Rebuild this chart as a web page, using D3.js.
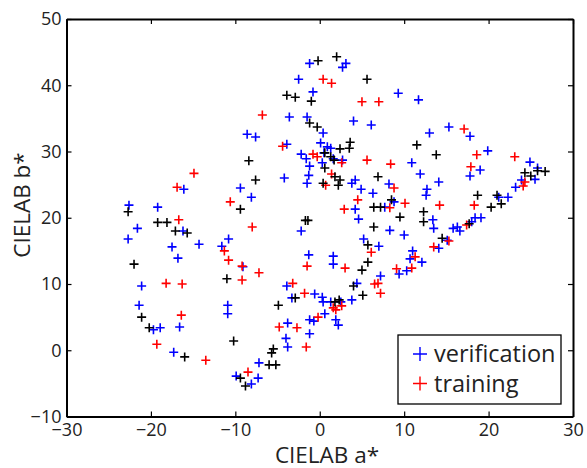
<!DOCTYPE html>
<html>
<head>
<meta charset="utf-8">
<script src="https://cdn.jsdelivr.net/npm/d3@7"></script>
<style>
	body { margin: 0; background: #fff; }
	svg { display: block; font-family: "Open Sans", sans-serif; }
</style>
</head>
<body>
<div id="chart"></div>
<script>
// verification points (blue), [a*, b*]
const verification = [
	[-22.6, 21.9], [-21.6, 18.4], [-19.2, 21.6], [-16.1, 24.3], [-16.2, 18.0], [-10.8, 16.8],
	[-9.4, 24.5], [-8.1, 23.1], [-8.6, 32.6], [-7.6, 32.2], [-4.2, 26.0], [-3.9, 31.1],
	[-3.6, 35.2], [-2.5, 40.9], [-2.2, 29.6], [-22.7, 16.8], [-17.5, 15.6], [-16.8, 13.9],
	[-14.3, 16.0], [-11.6, 15.7], [-21.1, 9.7], [-21.4, 6.8], [-16.6, 3.5], [-19.7, 3.1],
	[-18.9, 3.4], [-17.3, -0.3], [-10.9, 6.8], [-10.9, 5.5], [-9.9, -3.9], [-8.1, -5.1],
	[-7.3, -4.2], [-7.2, -1.9], [-9.1, 12.6], [-3.9, 9.7], [-3.3, 7.9], [-3.8, 4.1],
	[-4.0, 1.8], [-3.8, 0.5], [-1.2, 43.3], [3.1, 43.3], [2.7, 42.7], [-0.8, 39.0],
	[-1.5, 35.2], [0.4, 32.8], [0.1, 31.3], [0.9, 30.7], [1.3, 30.5], [0.5, 29.8],
	[-1.6, 28.9], [0.3, 28.3], [2.7, 28.7], [1.6, 28.9], [-1.2, 27.8], [-1.3, 26.4],
	[-1.5, 25.2], [3.8, 25.2], [4.2, 25.7], [4.9, 24.3], [6.3, 23.7], [8.2, 25.1],
	[4.0, 34.6], [6.1, 34.0], [9.3, 38.8], [11.7, 37.8], [13.0, 32.8], [15.3, 33.7],
	[17.8, 32.3], [19.9, 30.1], [24.9, 28.4], [25.8, 27.5], [10.9, 28.3], [11.9, 26.6],
	[14.1, 25.4], [19.0, 27.2], [17.8, 26.3], [25.5, 25.8], [23.9, 25.7], [23.2, 24.6],
	[12.7, 24.3], [12.6, 23.4], [21.2, 23.1], [22.3, 23.1], [8.8, 22.4], [7.7, 21.6],
	[4.2, 21.3], [4.6, 19.8], [13.4, 19.7], [13.5, 18.4], [-2.2, 18.0], [8.3, 18.1],
	[10.0, 17.4], [15.8, 18.4], [16.3, 18.6], [16.6, 18.0], [18.0, 19.4], [18.4, 20.0],
	[19.1, 20.0], [5.2, 16.8], [15.1, 16.6], [14.1, 15.4], [7.0, 15.7], [-1.3, 14.4],
	[1.6, 14.2], [1.6, 13.0], [11.0, 15.0], [10.7, 13.8], [12.1, 13.3], [9.4, 11.5],
	[10.3, 12.0], [7.2, 11.2], [4.4, 10.1], [-0.6, 8.5], [0.3, 8.0], [0.4, 7.3],
	[1.3, 7.3], [2.5, 7.3], [3.8, 7.6], [0.6, 5.5], [-1.2, 4.6], [-0.7, 4.4],
	[1.9, 4.6], [2.2, 3.8], [-1.2, 2.5]
];

// training points (red)
const training = [
	[-16.9, 24.6], [-14.9, 26.7], [-16.7, 19.7], [-10.6, 22.4], [-8.0, 18.6], [-6.8, 35.5],
	[-4.4, 30.8], [-19.3, 0.9], [-18.2, 10.1], [-16.3, 10.0], [-16.4, 5.3], [-13.5, -1.5],
	[-11.3, 15.0], [-10.8, 13.6], [-9.2, 12.7], [-9.2, 10.6], [-7.2, 11.7], [-8.5, -3.3],
	[-4.8, 3.5], [-2.7, 3.4], [-3.2, 10.1], [-1.8, 8.6], [-1.5, 12.7], [3.0, 12.4],
	[1.6, 6.4], [1.9, 6.1], [2.6, 6.7], [-0.2, 5.0], [-1.6, 0.5], [0.4, 40.9],
	[1.4, 40.3], [5.0, 37.5], [7.0, 37.5], [17.1, 33.4], [18.6, 29.5], [23.1, 29.2],
	[17.9, 27.7], [24.3, 25.4], [24.1, 24.8], [-0.8, 29.6], [-0.3, 29.2], [2.6, 28.3],
	[1.4, 26.6], [0.7, 24.9], [5.6, 28.7], [8.4, 28.1], [8.8, 24.5], [10.1, 22.2],
	[8.3, 21.5], [14.2, 21.9], [18.3, 21.9], [4.5, 22.7], [2.9, 21.3], [17.4, 18.9],
	[15.3, 16.5], [13.5, 15.6], [11.3, 14.1], [9.1, 12.3], [10.9, 12.4], [6.1, 14.8],
	[6.5, 10.0], [6.9, 10.1], [7.2, 8.6]
];

// remaining points (black, not in legend)
const other = [
	[-22.7, 20.9], [-19.2, 19.3], [-18.1, 19.3], [-17.1, 18.0], [-15.7, 17.7], [-9.4, 21.3],
	[-8.4, 28.6], [-7.6, 25.7], [-3.9, 38.5], [-2.9, 38.2], [-22.0, 13.0], [-21.1, 5.0],
	[-20.2, 3.4], [-16.0, -1.0], [-11.0, 10.8], [-10.2, 1.4], [-9.4, -4.2], [-8.8, -5.4],
	[-5.5, 0.2], [-5.7, -0.4], [-6.0, -2.2], [-5.2, -2.2], [-4.9, 6.8], [-2.9, 7.9],
	[-1.7, 19.6], [-1.4, 19.6], [-0.2, 43.7], [2.0, 44.3], [5.6, 40.9], [-1.0, 37.6],
	[-1.2, 34.3], [-0.3, 33.7], [3.6, 31.4], [3.5, 30.5], [2.4, 30.4], [0.6, 29.8],
	[1.3, 29.2], [1.7, 28.7], [0.6, 27.5], [1.8, 26.2], [2.4, 25.7], [2.2, 24.9],
	[0.4, 25.2], [6.9, 26.2], [11.5, 31.0], [13.8, 29.5], [24.3, 26.8], [26.7, 27.0],
	[25.0, 26.3], [25.8, 27.1], [18.7, 23.4], [21.0, 23.4], [21.5, 22.1], [20.3, 21.6],
	[8.5, 22.7], [6.4, 21.6], [7.2, 21.6], [12.3, 20.9], [12.3, 19.4], [9.5, 20.1],
	[6.4, 18.6], [17.7, 19.1], [14.5, 16.9], [5.7, 15.9], [5.7, 13.3], [5.0, 12.1],
	[5.1, 8.3], [1.8, 7.3], [2.3, 7.6], [4.0, 9.7]
];

const xTicks = [-30, -20, -10, 0, 10, 20, 30];
const yTicks = [-10, 0, 10, 20, 30, 40, 50];
const legendLabels = ["verification", "training"];

const width = 587;
const height = 468;
const margin = { top: 19, right: 14, bottom: 51.5, left: 66.5 };

const blue = "#0000ff";
const red = "#ff0000";

const svg = d3.select("#chart")
	.append("svg")
	.attr("width", width)
	.attr("height", height);

const x = d3.scaleLinear()
	.domain([-30, 30])
	.range([margin.left, width - margin.right]);

const y = d3.scaleLinear()
	.domain([-10, 50])
	.range([height - margin.bottom, margin.top]);

const fmt = (d) => d < 0 ? "\u2212" + Math.abs(d) : String(d);

// plus marker
const plus = "M-4.5,0H4.5M0,-4.5V4.5";

function drawSeries(data, color) {
	svg.append("g")
		.selectAll("path")
		.data(data)
		.enter()
		.append("path")
		.attr("d", plus)
		.attr("transform", (d) => "translate(" + x(d[0]) + "," + y(d[1]) + ")")
		.attr("fill", "none")
		.attr("stroke", color)
		.attr("stroke-width", 1.6);
}

drawSeries(verification, blue);
drawSeries(training, red);
drawSeries(other, "#000");

// axes, ticks pointing inward on all four sides
const axisStyle = (g) => {
	g.select(".domain").attr("stroke-width", 2);
	g.selectAll(".tick line").attr("stroke-width", 1.2);
};

svg.append("g")
	.attr("transform", "translate(0," + (height - margin.bottom) + ")")
	.call(d3.axisBottom(x).tickValues(xTicks).tickSize(-5).tickSizeOuter(0).tickPadding(7).tickFormat(fmt))
	.call(axisStyle)
	.call((g) => g.selectAll("text").attr("font-size", 18).attr("fill", "#222").attr("font-family", "Open Sans"));

svg.append("g")
	.attr("transform", "translate(0," + margin.top + ")")
	.call(d3.axisTop(x).tickValues(xTicks).tickSize(-5).tickSizeOuter(0).tickFormat(""))
	.call(axisStyle);

svg.append("g")
	.attr("transform", "translate(" + margin.left + ",0)")
	.call(d3.axisLeft(y).tickValues(yTicks).tickSize(-5).tickSizeOuter(0).tickPadding(5).tickFormat(fmt))
	.call(axisStyle)
	.call((g) => g.selectAll("text").attr("font-size", 18).attr("fill", "#222").attr("font-family", "Open Sans"));

svg.append("g")
	.attr("transform", "translate(" + (width - margin.right) + ",0)")
	.call(d3.axisRight(y).tickValues(yTicks).tickSize(-5).tickSizeOuter(0).tickFormat(""))
	.call(axisStyle);

// axis titles
svg.append("text")
	.attr("x", 327)
	.attr("y", 463)
	.attr("text-anchor", "middle")
	.attr("font-size", 22.5)
	.attr("fill", "#222")
	.text("CIELAB a*");

svg.append("text")
	.attr("transform", "translate(30,205) rotate(-90)")
	.attr("text-anchor", "middle")
	.attr("font-size", 22.5)
	.attr("fill", "#222")
	.text("CIELAB b*");

// legend
const legend = svg.append("g");

legend.append("rect")
	.attr("x", 398)
	.attr("y", 335)
	.attr("width", 163)
	.attr("height", 69)
	.attr("fill", "#fff")
	.attr("stroke", "#000")
	.attr("stroke-width", 1.3);

legend.selectAll("g.entry")
	.data(legendLabels)
	.enter()
	.append("g")
	.attr("class", "entry")
	.attr("transform", (d, i) => "translate(420," + (354 + i * 29.5) + ")")
	.each(function (d, i) {
		const g = d3.select(this);
		g.append("path")
			.attr("d", "M-7,0H7M0,-7V7")
			.attr("stroke", i == 0 ? blue : red)
			.attr("stroke-width", 1.4);
		g.append("text")
			.attr("x", 14)
			.attr("y", 8)
			.attr("font-size", 23.5)
			.attr("fill", "#222")
			.text(d);
	});
</script>
</body>
</html>
